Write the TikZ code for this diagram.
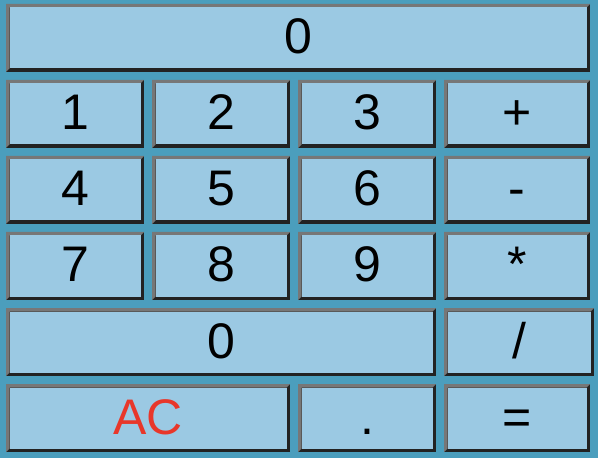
\documentclass[tikz,border=0pt]{standalone}
\usepackage{fontspec}
\setmainfont{Liberation Sans}
\definecolor{calcbg}{HTML}{4B9EBD}
\definecolor{btnfill}{HTML}{9BC9E3}
\definecolor{btnlight}{HTML}{777777}
\definecolor{btndark}{HTML}{222222}
\definecolor{acred}{HTML}{E8372A}
\tikzset{
  btnlabel/.style={anchor=base, inner sep=0pt, font=\fontsize{50bp}{60bp}\selectfont, text=black},
}
% #1 name, #2 x1, #3 y1, #4 x2, #5 y2, #6 label, #7 text colour
\newcommand{\calcbtn}[7]{%
  \fill[btndark] (#2,#3) rectangle (#4,#5);
  \fill[btnlight] (#2,#3) -- (#4,#3) -- ({#4-3.5},{#3+3.5}) -- ({#2+3.5},{#3+3.5}) -- ({#2+3.5},{#5-3.5}) -- (#2,#5) -- cycle;
  \fill[btnfill] ({#2+3.5},{#3+3.5}) rectangle ({#4-3.5},{#5-3.5});
  \node[btnlabel, text=#7] (#1) at ({(#2+#4)/2},{#5-18}) {#6};
}
\begin{document}
\begin{tikzpicture}[x=1bp,y=-1bp]
\fill[calcbg] (0,0) rectangle (598,458);
\useasboundingbox (0,0) rectangle (598,458);
\calcbtn{display}{6}{4}{590}{72}{0}{black}
% row 1
\calcbtn{b1}{6}{80}{144}{148}{1}{black}
\calcbtn{b2}{152}{80}{290}{148}{2}{black}
\calcbtn{b3}{298}{80}{436}{148}{3}{black}
\calcbtn{bplus}{444}{80}{590}{148}{+}{black}
% row 2
\calcbtn{b4}{6}{156}{144}{224}{4}{black}
\calcbtn{b5}{152}{156}{290}{224}{5}{black}
\calcbtn{b6}{298}{156}{436}{224}{6}{black}
\calcbtn{bminus}{444}{156}{590}{224}{-}{black}
% row 3
\calcbtn{b7}{6}{232}{144}{300}{7}{black}
\calcbtn{b8}{152}{232}{290}{300}{8}{black}
\calcbtn{b9}{298}{232}{436}{300}{9}{black}
\calcbtn{btimes}{444}{232}{590}{300}{*}{black}
% row 4
\calcbtn{b0}{6}{308}{436}{376}{0}{black}
\calcbtn{bdiv}{444}{308}{594}{376}{/}{black}
% row 5
\calcbtn{bac}{6}{384}{290}{452}{AC}{acred}
\calcbtn{bdot}{298}{384}{436}{452}{.}{black}
\calcbtn{beq}{444}{384}{590}{452}{=}{black}
\end{tikzpicture}
\end{document}
